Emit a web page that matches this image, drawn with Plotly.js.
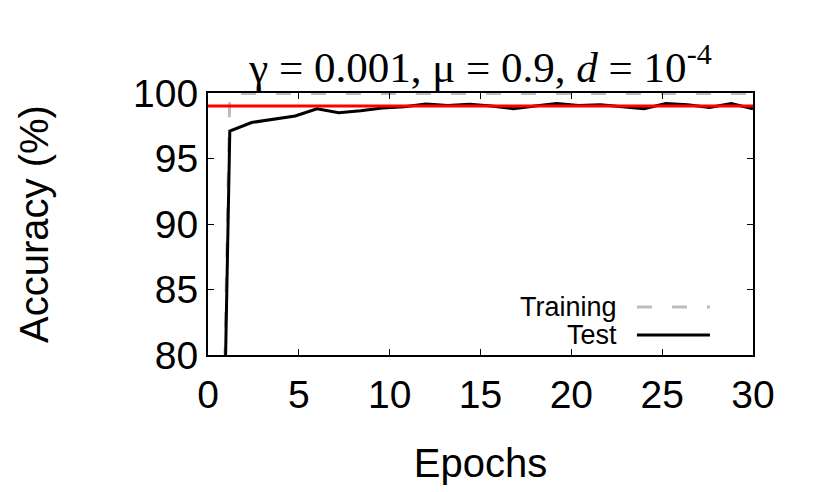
<!DOCTYPE html>
<html>
<head>
<meta charset="utf-8">
<script src="https://cdn.plot.ly/plotly-3.0.1.min.js"></script>
<style>
  html, body { margin: 0; padding: 0; background: #fff; }
  #chart { width: 830px; height: 492px; }
</style>
</head>
<body>
<div id="chart"></div>
<script>
// epochs (evaluated every 1.2 epochs)
const epochs = [0, 1.2, 2.4, 3.6, 4.8, 6.0, 7.2, 8.4, 9.6, 10.8, 12.0, 13.2, 14.4,
    15.6, 16.8, 18.0, 19.2, 20.4, 21.6, 22.8, 24.0, 25.2, 26.4, 27.6, 28.8, 30.0];

// accuracy values (%)
const trainAcc = [10, 99.97, 99.97, 99.97, 99.97, 99.97, 99.97, 99.97, 99.97, 99.97, 99.97, 99.97, 99.97,
    99.97, 99.97, 99.97, 99.97, 99.97, 99.97, 99.97, 99.97, 99.97, 99.97, 99.97, 99.97, 99.97];
const testAcc = [8, 97.1, 97.75, 98.0, 98.25, 98.8, 98.5, 98.65, 98.85, 98.95, 99.15, 99.05, 99.15,
    99.0, 98.8, 99.0, 99.2, 99.05, 99.1, 98.95, 98.8, 99.2, 99.1, 98.9, 99.2, 98.8];

const targetAcc = 99.0; // reference level (red)
const seriesNames = ['Training', 'Test'];

const tickFont = {family: 'Liberation Sans, Arial, sans-serif', size: 39, color: 'black'};
const titleFont = {family: 'Liberation Sans, Arial, sans-serif', size: 40, color: 'black'};

const training = {
    x: epochs,
    y: trainAcc,
    mode: 'lines',
    name: seriesNames[0],
    line: {color: '#bdbdbd', width: 3, dash: '15px,20px'},
    showlegend: false
};

const test = {
    x: epochs,
    y: testAcc,
    mode: 'lines',
    name: seriesNames[1],
    line: {color: 'black', width: 3},
    showlegend: false
};

// gnuplot style key: text on the left, sample line on the right
const keyRows = [0.183, 0.076];
const keyLines = [
    {color: '#bdbdbd', width: 3, dash: '15px,20px'},
    {color: 'black', width: 3}
];

const annotations = [];
const shapes = [{
    type: 'line', xref: 'paper', x0: 0, x1: 1, yref: 'y', y0: targetAcc, y1: targetAcc,
    line: {color: 'red', width: 3}
}];
seriesNames.forEach((name, i) => {
    annotations.push({
        text: name, xref: 'paper', yref: 'paper', x: 0.754, y: keyRows[i],
        xanchor: 'right', yanchor: 'middle', showarrow: false,
        font: {family: 'Liberation Sans, Arial, sans-serif', size: 27, color: 'black'}
    });
    shapes.push({
        type: 'line', xref: 'paper', yref: 'paper', x0: 0.787, x1: 0.921,
        y0: keyRows[i], y1: keyRows[i], line: keyLines[i]
    });
});

const layout = {
    width: 830,
    height: 492,
    margin: {l: 208, r: 77, t: 93, b: 137},
    paper_bgcolor: 'white',
    plot_bgcolor: 'white',
    title: {
        text: 'γ = 0.001, μ = 0.9, <i>d</i> = 10<sup>-4</sup>',
        font: {family: 'Liberation Serif, Times New Roman, serif', size: 43, color: 'black'},
        x: 0.5, xref: 'paper', xanchor: 'center',
        y: 1, yref: 'paper', yanchor: 'bottom', pad: {b: 11}
    },
    xaxis: {
        range: [0, 30],
        dtick: 5,
        ticks: 'inside',
        ticklen: 6,
        tickwidth: 1,
        tickcolor: 'black',
        showline: true,
        linecolor: 'black',
        linewidth: 2,
        mirror: 'ticks',
        showgrid: false,
        zeroline: false,
        tickfont: tickFont,
        ticklabelstandoff: 4,
        title: {text: 'Epochs', font: titleFont, standoff: 34}
    },
    yaxis: {
        range: [80, 100],
        dtick: 5,
        ticks: 'inside',
        ticklen: 6,
        tickwidth: 1,
        tickcolor: 'black',
        showline: true,
        linecolor: 'black',
        linewidth: 2,
        mirror: 'ticks',
        showgrid: false,
        zeroline: false,
        tickfont: tickFont,
        title: {text: 'Accuracy (%)', font: titleFont, standoff: 72}
    },
    annotations: annotations,
    shapes: shapes
};

Plotly.newPlot('chart', [training, test], layout, {displayModeBar: false});
</script>
</body>
</html>
